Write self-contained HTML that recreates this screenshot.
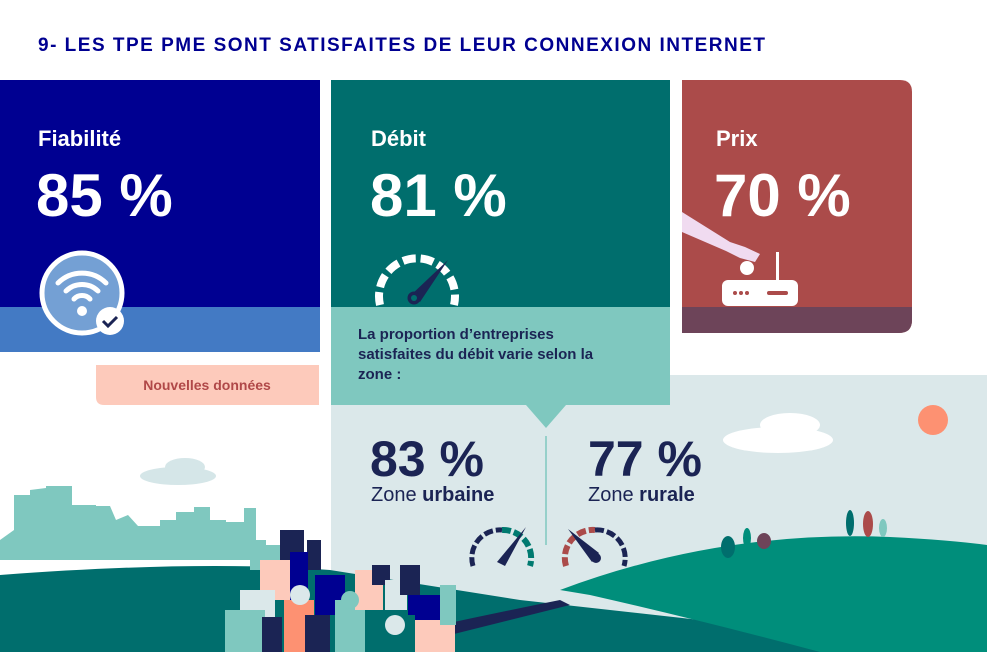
<!DOCTYPE html>
<html><head><meta charset="utf-8"><style>
html,body{margin:0;padding:0;background:#fff;}
body{width:987px;height:652px;overflow:hidden;position:relative;font-family:"Liberation Sans",sans-serif;}
svg{position:absolute;left:0;top:0;}
</style></head><body>
<svg width="987" height="652" viewBox="0 0 987 652" xmlns="http://www.w3.org/2000/svg" font-family="Liberation Sans, sans-serif">
<text x="38" y="51" font-size="19" font-weight="bold" fill="#000091" letter-spacing="1.5">9- LES TPE PME SONT SATISFAITES DE LEUR CONNEXION INTERNET</text>
<rect x="331" y="375" width="656" height="277" fill="#dbe8ea"/>
<rect x="0" y="80" width="320" height="227" fill="#000091"/>
<rect x="0" y="307" width="320" height="45" fill="#437ac4"/>
<text x="38" y="146" font-size="22" font-weight="bold" fill="#fff">Fiabilité</text>
<text x="36" y="216" font-size="60" font-weight="bold" fill="#fff">85 %</text>
<circle cx="82" cy="293" r="40" fill="#74a0d4" stroke="#fff" stroke-width="5"/>
<g fill="none" stroke="#fff" stroke-width="5" stroke-linecap="round">
<path d="M58 283 A34 34 0 0 1 106 283"/><path d="M66 291 A23 23 0 0 1 98 291"/><path d="M74 299 A11 11 0 0 1 90 299"/></g>
<circle cx="82" cy="311" r="5" fill="#fff"/>
<circle cx="110" cy="321" r="14" fill="#fff"/>
<path d="M103 321 l5 5 l9 -9" fill="none" stroke="#1b2454" stroke-width="3"/>
<path d="M96 365 H319 V405 H104 Q96 405 96 397 Z" fill="#fdcabb"/>
<text x="207" y="390" font-size="14" font-weight="bold" fill="#b04848" text-anchor="middle">Nouvelles données</text>
<rect x="331" y="80" width="339" height="227" fill="#006e6d"/>
<path d="M331 307 H670 V405 H566 L546 428 L526 405 H331 Z" fill="#7fc8bf"/>
<line x1="546" y1="436" x2="546" y2="545" stroke="#7fc8bf" stroke-width="1.5"/>
<text x="371" y="146" font-size="22" font-weight="bold" fill="#fff">Débit</text>
<text x="370" y="216" font-size="60" font-weight="bold" fill="#fff">81 %</text>
<path d="M380 305 A38 38 0 1 1 454 305" fill="none" stroke="#fff" stroke-width="8" stroke-dasharray="13 5"/>
<path d="M410 296 L448 260 L420 302 Z" fill="#1b2454"/>
<circle cx="414" cy="298" r="6" fill="#1b2454" stroke="#1b2454"/><circle cx="414" cy="298" r="3" fill="#006e6d"/>
<text x="358" y="339" font-size="15" font-weight="bold" fill="#1b2454">La proportion d’entreprises</text>
<text x="358" y="359" font-size="15" font-weight="bold" fill="#1b2454">satisfaites du débit varie selon la</text>
<text x="358" y="379" font-size="15" font-weight="bold" fill="#1b2454">zone :</text>
<text x="370" y="476" font-size="50" font-weight="bold" fill="#1b2454">83 %</text>
<text x="371" y="501" font-size="20" fill="#1b2454">Zone <tspan font-weight="bold">urbaine</tspan></text>
<text x="588" y="476" font-size="50" font-weight="bold" fill="#1b2454">77 %</text>
<text x="588" y="501" font-size="20" fill="#1b2454">Zone <tspan font-weight="bold">rurale</tspan></text>
<path d="M473 566 A28 28 0 0 1 502 530" fill="none" stroke="#1b2454" stroke-width="5" stroke-dasharray="9 3"/>
<path d="M502 530 A28 28 0 0 1 530 566" fill="none" stroke="#007a70" stroke-width="6" stroke-dasharray="9 3"/>
<path d="M497 562 L526 527 L505 566 Z" fill="#1b2454"/>
<path d="M566 566 A28 28 0 0 1 595 530" fill="none" stroke="#ab4b4a" stroke-width="6" stroke-dasharray="9 3"/>
<path d="M595 530 A28 28 0 0 1 624 566" fill="none" stroke="#1b2454" stroke-width="5" stroke-dasharray="9 3"/>
<path d="M568 529 L599 553 L592 562 Z" fill="#1b2454"/><circle cx="596" cy="558" r="5" fill="#1b2454"/>
<path d="M682 80 H900 Q912 80 912 92 V320 Q912 333 899 333 H682 Z" fill="#ab4b4a"/>
<path d="M682 307 H912 V320 Q912 333 899 333 H682 Z" fill="#6d4459"/>
<text x="716" y="146" font-size="22" font-weight="bold" fill="#fff">Prix</text>
<text x="714" y="216" font-size="60" font-weight="bold" fill="#fff">70 %</text>
<path d="M682 212 L730 242 L745 247 L760 254 L755 262 L740 258 L726 251 L682 232 Z" fill="#f0dbf0"/>
<circle cx="747" cy="268" r="7" fill="#fff"/>
<rect x="722" y="280" width="76" height="26" rx="6" fill="#fff"/>
<rect x="776" y="252" width="3" height="28" fill="#fff"/>
<circle cx="735" cy="293" r="2" fill="#ab4b4a"/><circle cx="741" cy="293" r="2" fill="#ab4b4a"/><circle cx="747" cy="293" r="2" fill="#ab4b4a"/>
<rect x="767" y="291" width="21" height="4" rx="2" fill="#ab4b4a"/>
<circle cx="933" cy="420" r="15" fill="#fd9172"/>
<ellipse cx="778" cy="440" rx="55" ry="13" fill="#fff"/><ellipse cx="790" cy="425" rx="30" ry="12" fill="#fff"/>
<ellipse cx="178" cy="476" rx="38" ry="9" fill="#d5e6e8"/><ellipse cx="185" cy="467" rx="20" ry="9" fill="#d5e6e8"/>
<path d="M0 540 L14 530 V495 H30 V490 L46 488 V486 H72 V505 H96 V506 H110 L116 520 L128 515 L138 526 H160 V520 H176 V512 H194 V507 H210 V520 H226 V522 H244 V508 H256 V545 H280 V560 H0 Z" fill="#7fc8bf"/>
<path d="M0 575 Q200 560 330 570 L520 600 L987 652 H0 Z" fill="#006e6d"/>
<path d="M560 590 Q720 530 890 537 Q950 540 987 545 V652 H820 Q700 620 590 595 Z" fill="#008e7b"/>
<path d="M440 625 Q500 612 560 600 L570 605 Q510 620 450 635 Z" fill="#1b2454"/>
<ellipse cx="728" cy="547" rx="7" ry="11" fill="#006e6d"/>
<ellipse cx="747" cy="538" rx="4" ry="10" fill="#008e7b"/>
<ellipse cx="764" cy="541" rx="7" ry="8" fill="#6d4459"/>
<ellipse cx="850" cy="523" rx="4" ry="13" fill="#006e6d"/>
<ellipse cx="868" cy="524" rx="5" ry="13" fill="#ab4b4a"/>
<ellipse cx="883" cy="528" rx="4" ry="9" fill="#7fc8bf"/>
<g>
<rect x="250" y="540" width="16" height="30" fill="#7fc8bf"/>
<rect x="280" y="530" width="24" height="30" fill="#1b2454"/>
<rect x="307" y="540" width="14" height="30" fill="#1b2454"/>
<rect x="260" y="560" width="30" height="40" fill="#fdcabb"/>
<rect x="290" y="552" width="18" height="48" fill="#000091"/>
<rect x="315" y="575" width="30" height="40" fill="#000091"/>
<rect x="240" y="590" width="35" height="30" fill="#dbe8ea"/>
<rect x="225" y="610" width="40" height="42" fill="#7fc8bf"/>
<rect x="262" y="617" width="20" height="35" fill="#1b2454"/>
<rect x="284" y="600" width="30" height="52" fill="#fd9172"/>
<rect x="305" y="615" width="25" height="37" fill="#1b2454"/>
<rect x="335" y="600" width="30" height="52" fill="#7fc8bf"/>
<rect x="355" y="570" width="28" height="40" fill="#fdcabb"/>
<rect x="372" y="565" width="18" height="20" fill="#1b2454"/>
<rect x="385" y="580" width="22" height="30" fill="#dbe8ea"/>
<rect x="400" y="565" width="20" height="30" fill="#1b2454"/>
<rect x="408" y="595" width="40" height="25" fill="#000091"/>
<rect x="365" y="615" width="50" height="37" fill="#006e6d"/>
<rect x="415" y="620" width="40" height="32" fill="#fdcabb"/>
<rect x="440" y="585" width="16" height="40" fill="#7fc8bf"/>
<circle cx="300" cy="595" r="10" fill="#dbe8ea"/>
<circle cx="350" cy="600" r="9" fill="#7fc8bf"/>
<circle cx="395" cy="625" r="10" fill="#dbe8ea"/>
</g>
</svg>
</body></html>
